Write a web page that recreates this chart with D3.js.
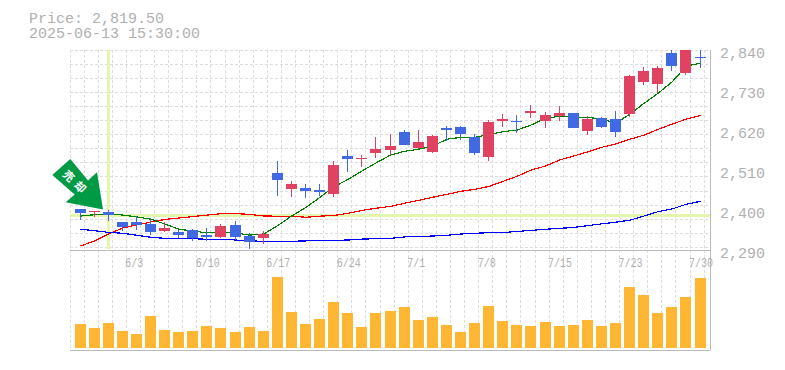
<!DOCTYPE html>
<html>
<head>
<meta charset="utf-8">
<script src="https://cdn.jsdelivr.net/npm/d3@7"></script>
<style>
  html, body { margin: 0; padding: 0; background: #fff; }
  svg { display: block; }
  text { font-family: "Liberation Mono", monospace; fill: #b0b0b0; }
</style>
</head>
<body>
<script>
const width = 785;
const height = 370;

const dates = ["5/28","5/29","5/30","6/2","6/3","6/4","6/5","6/6","6/9","6/10","6/11","6/12","6/13","6/16","6/17",
  "6/18","6/19","6/20","6/23","6/24","6/25","6/26","6/27","6/30","7/1","7/2","7/3","7/4","7/7","7/8",
  "7/9","7/10","7/11","7/14","7/15","7/16","7/17","7/18","7/22","7/23","7/24","7/25","7/28","7/29","7/30"];
const dateTicks = ["6/3","6/10","6/17","6/24","7/1","7/8","7/15","7/23","7/30"];
const priceTicks = [2290, 2400, 2510, 2620, 2730, 2840];

const opens = [2403,2394.5,2394.5,2367,2367,2361.5,2342,2339.5,2345,2331,2326,2359,2328.5,2323,2502,
  2458,2460.5,2455,2444,2548.5,2540,2557,2565,2614.5,2570.5,2559.5,2625.5,2628,2601,2546,
  2645,2646,2667,2645,2658.5,2667,2617,2653,2650,2664,2752,2746.5,2832,2777,2821];
const closes = [2393,2397,2387.5,2353,2359,2339.5,2350.5,2331,2322,2326,2356,2326,2312,2334,2482.5,
  2471.5,2452,2449.5,2524,2540,2543,2568,2576,2579,2587,2603.5,2620,2609,2557,2642,
  2650,2643,2673,2661,2667,2625.5,2650,2628,2614.5,2768.5,2782,2790.5,2796,2855,2819.5];
const highs = [2403,2397,2399,2367,2383.5,2378,2367,2345,2348,2350.5,2361.5,2370,2337,2342,2535,
  2480,2471.5,2471.5,2535,2565,2551,2601,2609,2620,2620,2606,2631,2631,2609,2647.5,
  2664,2661,2689,2669.5,2686,2667,2658.5,2656,2672,2771,2793,2796,2845,2860,2845];
const lows = [2373,2381.5,2370,2342,2345,2331,2339.5,2323,2315,2315,2323,2317.5,2293,2306.5,2438.5,
  2436,2433,2438.5,2436,2504.5,2518,2543,2551,2579,2568,2557,2590,2592.5,2551,2535,
  2628,2612,2653,2625.5,2645,2625.5,2606,2625.5,2601,2656,2744,2722,2782,2771,2790.5];

const maShort = [2383.5,2387,2390,2386,2381,2374.5,2361.5,2347,2342,2337,2339.5,2337,2331,2334,2357,
  2384,2407,2435,2464,2484.5,2508,2530,2551,2561.5,2567,2576,2594.5,2600,2600,2608,
  2615.5,2620,2634,2652,2658,2655,2655,2649.5,2639,2664,2693.5,2721,2753,2796,2804];
const maMid = [2301,2315,2334,2350.5,2359,2367,2374,2378,2382,2386,2390,2390,2388,2383.5,2383,
  2383,2380,2383,2385,2391,2399,2405,2410,2418.5,2426.5,2435,2443,2451.5,2457,2465,
  2479,2493,2510,2521,2537.5,2548.5,2560,2572.5,2581.5,2594.5,2606,2622,2636.5,2650,2660];
const maLong = [2347,2343,2338.5,2336,2330.5,2325,2322,2322,2321,2319.5,2319.5,2317.5,2315,2314,2314,
  2314,2315,2316,2316.5,2317.5,2320,2321,2322,2326,2327,2328.5,2330.5,2334,2336,2337.5,
  2338,2341,2344,2347,2349.5,2352,2357,2362,2366.5,2372,2383.5,2395.5,2403,2416,2424];
const volume = [24,20,25,17,14,32,18,16,17,22,20,16,21,17,71,36,24,29,46,35,21,35,37,
  41,28,31,23,16,25,42,27,23,22,26,22,23,28,22,25,61,53,35,41,51,70];

const markIndex = 2;
const priceLabel = "Price: 2,819.50";
const timeLabel = "2025-06-13 15:30:00";
const markLabel = ["売", "却"];

const svg = d3.select("body")
  .append("svg")
  .attr("width", width)
  .attr("height", height)
  .attr("viewBox", [0, 0, width, height]);

const plotLeft = 70, plotRight = 710, plotTop = 50, plotMid = 250, plotBottom = 350;

const x = d3.scalePoint().domain(dates).range([80.5, 700.5]);
const y = d3.scaleLinear().domain([2290, 2840]).range([plotMid, plotTop]);
const yVol = d3.scaleLinear().domain([0, 71]).range([348, 277]);
const step = x.step();
const barLeft = d => Math.floor(x(d) - 5.5);

svg.append("clipPath").attr("id", "plot")
  .append("rect").attr("x", plotLeft).attr("y", plotTop).attr("width", plotRight - plotLeft).attr("height", plotMid - plotTop);

// Dotted grid
const grid = svg.append("g")
  .attr("stroke", "#ddd")
  .attr("stroke-dasharray", "3,2")
  .attr("shape-rendering", "crispEdges");
grid.selectAll(".v")
  .data(d3.range(0, 46))
  .enter().append("line")
  .attr("class", "v")
  .attr("x1", i => Math.floor(plotLeft + step * i) + 0.5)
  .attr("x2", i => Math.floor(plotLeft + step * i) + 0.5)
  .attr("y1", plotTop)
  .attr("y2", plotBottom);
grid.selectAll(".h")
  .data(d3.range(0, 15))
  .enter().append("line")
  .attr("class", "h")
  .attr("x1", plotLeft)
  .attr("x2", plotRight)
  .attr("y1", i => Math.floor(plotTop + 14.1 * i) + 0.5)
  .attr("y2", i => Math.floor(plotTop + 14.1 * i) + 0.5);

// Panel frame
const frame = svg.append("g").attr("stroke", "#bbb").attr("shape-rendering", "crispEdges");
frame.append("line").attr("x1", plotLeft).attr("x2", plotRight).attr("y1", plotMid + 0.5).attr("y2", plotMid + 0.5);
frame.append("line").attr("x1", plotLeft).attr("x2", plotRight).attr("y1", plotBottom + 0.5).attr("y2", plotBottom + 0.5);
frame.append("line").attr("x1", plotRight + 0.5).attr("x2", plotRight + 0.5).attr("y1", plotTop).attr("y2", plotBottom);

// Crosshair at the marked bar
const cross = svg.append("g").attr("stroke", "#e4f5ae").attr("stroke-width", 3).attr("shape-rendering", "crispEdges");
cross.append("line")
  .attr("x1", barLeft(dates[markIndex]) + 5.5).attr("x2", barLeft(dates[markIndex]) + 5.5)
  .attr("y1", plotTop).attr("y2", plotMid - 1);
cross.append("line")
  .attr("x1", plotLeft).attr("x2", plotRight)
  .attr("y1", Math.round(y(closes[markIndex])) + 0.5).attr("y2", Math.round(y(closes[markIndex])) + 0.5);

const plot = svg.append("g").attr("clip-path", "url(#plot)");

// Moving averages
const line = d3.line().x((d, i) => x(dates[i])).y(d => y(d));
[[maMid, "#f00"], [maLong, "#00f"], [maShort, "#008000"]].forEach(([values, color]) => {
  plot.append("path")
    .attr("d", line(values))
    .attr("fill", "none")
    .attr("stroke", color)
    .attr("stroke-width", 1.2)
    .attr("shape-rendering", "crispEdges");
});

// Candles
const upColor = "#e04262";
const downColor = "#4169e1";
const candle = plot.selectAll(".candle")
  .data(dates)
  .enter().append("g")
  .attr("class", "candle")
  .attr("shape-rendering", "crispEdges");
candle.append("line")
  .attr("x1", d => barLeft(d) + 5.5)
  .attr("x2", d => barLeft(d) + 5.5)
  .attr("y1", (d, i) => Math.round(y(highs[i])))
  .attr("y2", (d, i) => Math.round(y(lows[i])))
  .attr("stroke", (d, i) => closes[i] >= opens[i] ? upColor : downColor);
candle.append("rect")
  .attr("x", barLeft)
  .attr("width", 11)
  .attr("y", (d, i) => Math.round(y(Math.max(opens[i], closes[i]))))
  .attr("height", (d, i) => Math.max(1, Math.round(y(Math.min(opens[i], closes[i]))) - Math.round(y(Math.max(opens[i], closes[i])))))
  .attr("fill", (d, i) => closes[i] >= opens[i] ? upColor : downColor);

// Volume bars
svg.append("g").selectAll("rect")
  .data(volume)
  .enter().append("rect")
  .attr("x", (d, i) => barLeft(dates[i]))
  .attr("width", 11)
  .attr("y", d => Math.round(yVol(d)))
  .attr("height", d => Math.round(yVol(0)) - Math.round(yVol(d)))
  .attr("fill", "#ffb733")
  .attr("shape-rendering", "crispEdges");

// Price axis labels
const yAxis = svg.append("g")
  .attr("transform", `translate(720,0)`)
  .call(d3.axisRight(y).tickValues(priceTicks).tickSize(0).tickPadding(0).tickFormat(d3.format(",")));
yAxis.select(".domain").remove();
yAxis.selectAll("text")
  .attr("x", 0)
  .attr("dy", 7)
  .style("font-family", "Liberation Mono")
  .style("font-size", "15px");

// Date axis labels, squeezed like the original
const xAxis = svg.append("g")
  .attr("transform", `translate(0,${plotMid})`)
  .call(d3.axisBottom(x).tickValues(dateTicks).tickSize(0).tickPadding(0));
xAxis.select(".domain").remove();
xAxis.selectAll("text")
  .attr("text-anchor", "start")
  .attr("x", -12)
  .attr("y", 17)
  .attr("dy", 0)
  .attr("textLength", d => d.length * 6)
  .attr("lengthAdjust", "spacingAndGlyphs")
  .style("font-family", "Liberation Mono")
  .style("font-size", "12px");

// Header
svg.append("text").attr("x", 29).attr("y", 23).style("font-size", "15px").text(priceLabel);
svg.append("text").attr("x", 29).attr("y", 38).style("font-size", "15px").text(timeLabel);

// Signal arrow pointing at the marked bar
const tipX = barLeft(dates[markIndex]);
const tipY = y(closes[markIndex]) - 5;
const arrow = svg.append("g").attr("transform", `translate(${tipX},${tipY})`);
arrow.append("path")
  .attr("d", "M-50.7,-34.6L-32.7,-50.6L-15,-29L-6,-37.3L0,0L-37.3,-7.3L-28.3,-15Z")
  .attr("fill", "#009944");
markLabel.forEach((t, i) => {
  arrow.append("text")
    .attr("transform", `translate(${-34.5 + i * 11.5},${-33.5 + i * 11}) rotate(45)`)
    .attr("text-anchor", "middle")
    .attr("dy", "0.35em")
    .style("font-family", "Noto Sans CJK JP")
    .style("font-weight", "700")
    .style("font-size", "11px")
    .style("fill", "#fff")
    .text(t);
});
</script>
</body>
</html>
